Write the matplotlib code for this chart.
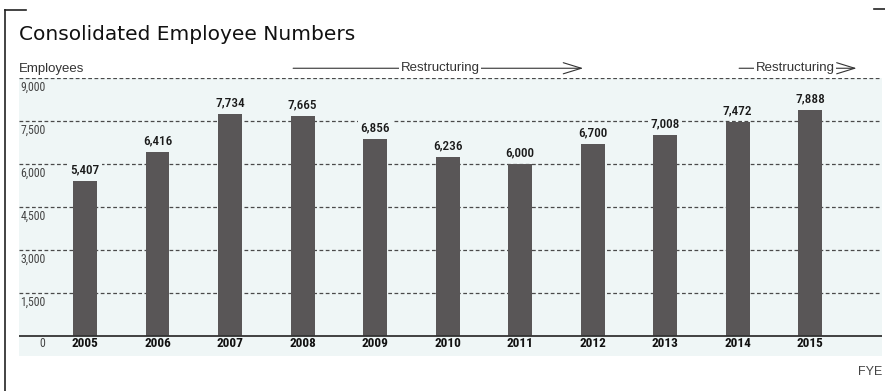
import matplotlib
matplotlib.use("Agg")
import matplotlib.pyplot as plt
from matplotlib.lines import Line2D
from matplotlib.transforms import blended_transform_factory

# data
years = ["2005", "2006", "2007", "2008", "2009", "2010",
         "2011", "2012", "2013", "2014", "2015"]
employees = [5407, 6416, 7734, 7665, 6856, 6236, 6000, 6700, 7008, 7472, 7888]
y_ticks = [0, 1500, 3000, 4500, 6000, 7500, 9000]
# (start, end, label centre) in bar-index units
restructuring_spans = [(2.87, 6.87, 4.9), (9.02, 10.64, 9.79)]

BG = "#eff6f6"
BAR = "#595657"
GRID = "#4a4a4a"
NARROW = ["Liberation Sans Narrow", "DejaVu Sans Condensed", "Roboto Condensed", "Roboto", "DejaVu Sans"]
SANS = ["Liberation Sans", "DejaVu Sans"]

W, H = 885, 391
fig = plt.figure(figsize=(W / 100, H / 100), dpi=100)
ax = fig.add_axes([19 / W, (H - 356) / H, (882 - 19) / W, (356 - 78) / H])
ax.set_facecolor(BG)
for s in ax.spines.values():
    s.set_visible(False)
ax.set_xticks([])
ax.set_yticks([])

x = list(range(len(years)))
ax.set_xlim(-0.91, 10.99)
ax.set_ylim(-700, 9000)
left_tr = blended_transform_factory(ax.transAxes, ax.transData)

# gridlines
for v in y_ticks[1:]:
    ax.axhline(v, color=GRID, lw=0.9, ls=(0, (3, 2)), zorder=1)
ax.axhline(0, color="#333333", lw=1.3, zorder=3)

ax.bar(x, employees, width=0.33, color=BAR, zorder=2)

# value labels
for xi, v in zip(x, employees):
    ax.text(xi, v + 170, f"{v:,}", ha="center", va="bottom", fontsize=9.5,
            family=NARROW, fontweight="medium", color="#1a1a1a",
            bbox=dict(boxstyle="square,pad=0.15", fc=BG, ec="none"), zorder=4)

# year labels
for xi, yr in zip(x, years):
    ax.text(xi, -280, yr, ha="center", va="center", fontsize=9.5,
            family=NARROW, fontweight="bold", color="#111111")

# y tick labels, sitting under each gridline
for v in y_ticks:
    if v == 0:
        ax.text(-0.55, -280, "0", ha="right", va="center", fontsize=8.5,
                family=NARROW, color="#444444")
    else:
        ax.text(0.0015, v - 110, f"{v:,}", ha="left", va="top", fontsize=8.5,
                family=NARROW, color="#444444", transform=left_tr)

ax.text(0.0, 9320, "Employees", ha="left", va="center", fontsize=9.5,
        family=SANS, color="#333333", clip_on=False, transform=left_tr)

# restructuring arrows above the plot
arrow_y = 9340
for x0, x1, xc in restructuring_spans:
    ax.annotate("", xy=(x1, arrow_y), xytext=(x0, arrow_y),
                arrowprops=dict(arrowstyle="->,head_length=1.3,head_width=0.4",
                                lw=0.8, color="#333333", shrinkA=0, shrinkB=0),
                annotation_clip=False)
    ax.text(xc, arrow_y, "Restructuring",
            ha="center", va="center", fontsize=9.5, family=SANS, color="#333333",
            bbox=dict(boxstyle="square,pad=0.12", fc="white", ec="none"),
            clip_on=False)

fig.text(19 / W, (H - 35) / H, "Consolidated Employee Numbers", ha="left",
         va="center", fontsize=14.5, family=["DejaVu Sans"], color="#111111")
fig.text(882 / W, (H - 372) / H, "FYE", ha="right", va="center", fontsize=9,
         family=SANS, color="#444444")

# corner frame
fig.add_artist(Line2D([4.5 / W, 4.5 / W], [0, (H - 10) / H], color="#222222", lw=1.2))
fig.add_artist(Line2D([4.5 / W, 26 / W], [(H - 10) / H, (H - 10) / H], color="#222222", lw=1.2))
fig.add_artist(Line2D([874 / W, 1.0], [(H - 9) / H, (H - 9) / H], color="#222222", lw=1.2))

fig.savefig("out.png", dpi=100)
